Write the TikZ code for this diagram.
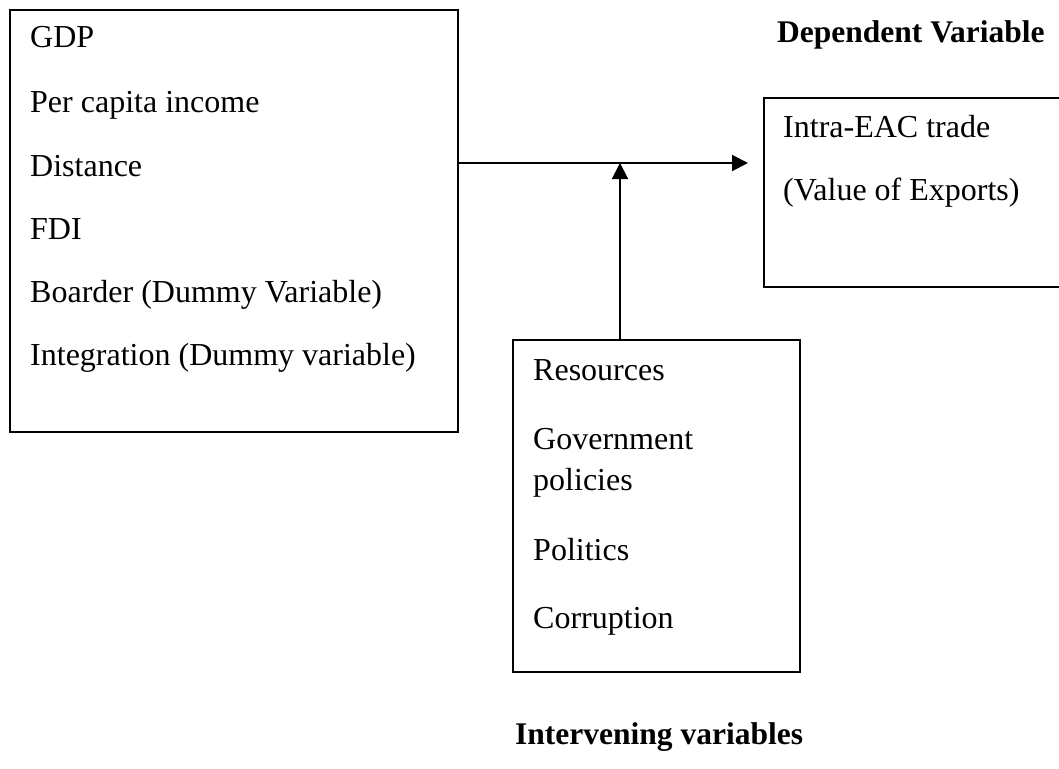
\documentclass[tikz,border=0pt]{standalone}
\usepackage{fontspec}
\setmainfont{Liberation Serif}
\usetikzlibrary{arrows.meta}
\begin{document}
\begin{tikzpicture}[x=1pt,y=-1pt,
  box/.style={draw=black,line width=2pt,rectangle,inner sep=0pt,anchor=north west},
  txt/.style={anchor=base west,inner sep=0pt,font=\fontsize{32}{38}\selectfont},
  btxt/.style={anchor=base west,inner sep=0pt,font=\fontsize{31.5}{38}\selectfont\bfseries},
  conn/.style={line width=2pt,-{Triangle[length=16pt,width=16pt]}}]
\clip (0,0) rectangle (1059,768);
\fill[white] (0,0) rectangle (1059,768);
% boxes
\node[box,minimum width=448pt,minimum height=422pt] (b1) at (9,9) {};
\node[box,minimum width=310pt,minimum height=189pt] (b2) at (763,97) {};
\node[box,minimum width=287pt,minimum height=332pt] (b3) at (512,339) {};
% texts box 1
\node[txt] (t1) at (30,48) {GDP};
\node[txt] (t2) at (30,112) {Per capita income};
\node[txt] (t3) at (30,176) {Distance};
\node[txt] (t4) at (30,239) {FDI};
\node[txt] (t5) at (30,302) {Boarder (Dummy Variable)};
\node[txt] (t6) at (30,365) {Integration (Dummy variable)};
% box 2
\node[txt] (u1) at (783,137) {Intra-EAC trade};
\node[txt] (u2) at (783,200) {(Value of Exports)};
\node[btxt] (dep) at (777,42) {Dependent Variable};
% box 3
\node[txt] (v1) at (533,380) {Resources};
\node[txt] (v2) at (533,449) {Government};
\node[txt] (v3) at (533,490) {policies};
\node[txt] (v4) at (533,560) {Politics};
\node[txt] (v5) at (533,628) {Corruption};
\node[btxt] (int) at (515,744) {Intervening variables};
% connectors
\coordinate (j) at (620,163);
\draw[conn,shorten >=15pt] (b1.east |- j) -- (b2.west |- j);
\draw[conn] (j |- b3.north) -- (j);
\end{tikzpicture}
\end{document}
